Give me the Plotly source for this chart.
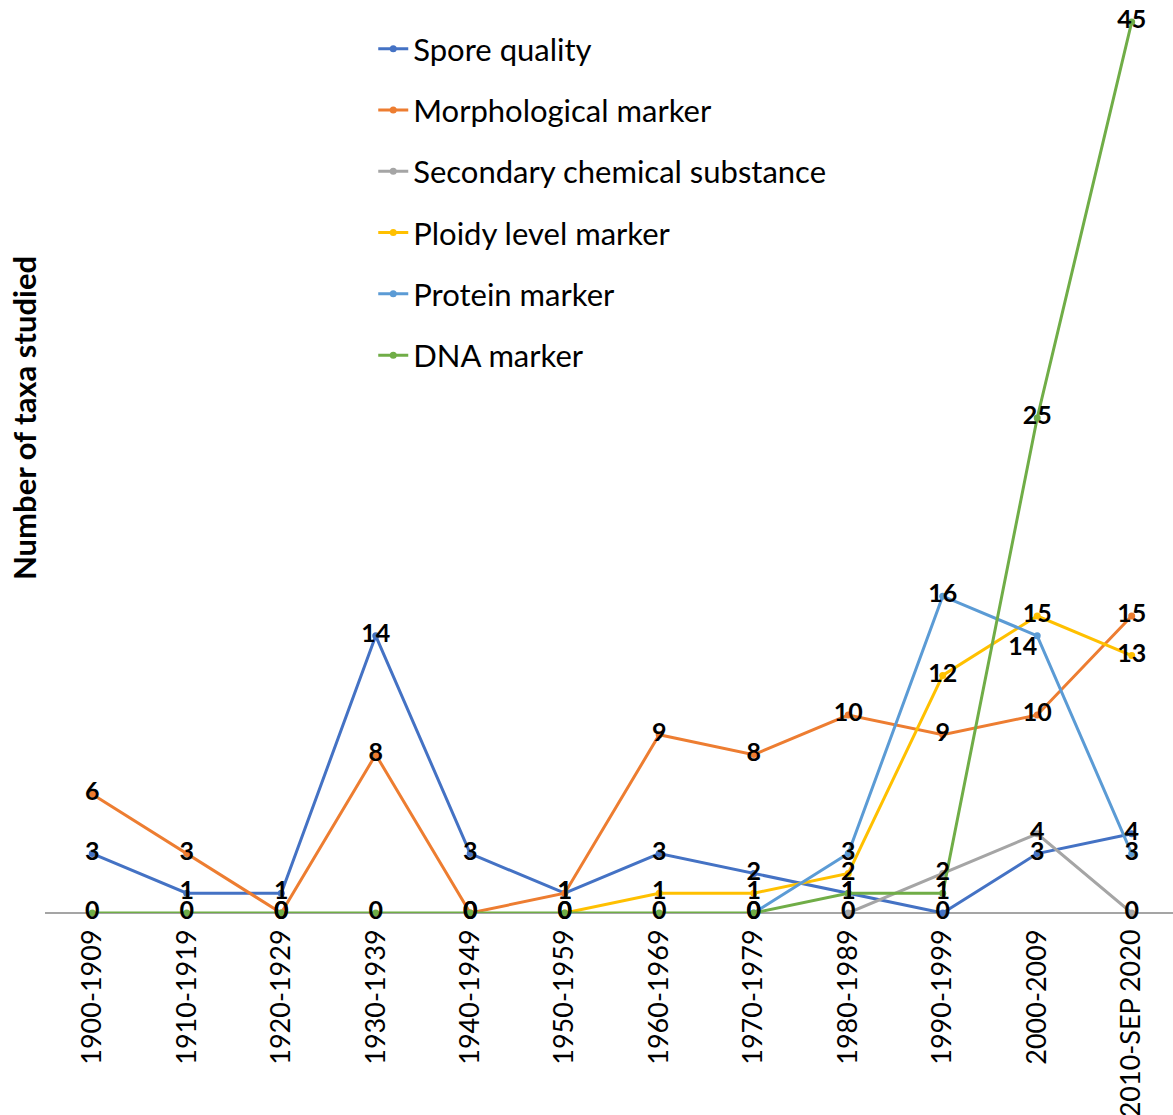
import plotly.graph_objects as go

periods = ["1900-1909", "1910-1919", "1920-1929", "1930-1939", "1940-1949",
           "1950-1959", "1960-1969", "1970-1979", "1980-1989", "1990-1999",
           "2000-2009", "2010-SEP 2020"]

spore_quality = [3, 1, 1, 14, 3, 1, 3, 2, 1, 0, 3, 4]
morphological = [6, 3, 0, 8, 0, 1, 9, 8, 10, 9, 10, 15]
secondary_chem = [None, None, None, None, None, None, None, None, 0, 2, 4, 0]
ploidy_level = [None, None, None, None, None, 0, 1, 1, 2, 12, 15, 13]
protein = [None, None, None, None, None, None, None, 0, 3, 16, 14, 3]
dna = [0, 0, 0, 0, 0, 0, 0, 0, 1, 1, 25, 45]

series = [
    ("Spore quality", spore_quality, "#4472C4"),
    ("Morphological marker", morphological, "#ED7D31"),
    ("Secondary chemical substance", secondary_chem, "#A5A5A5"),
    ("Ploidy level marker", ploidy_level, "#FFC000"),
    ("Protein marker", protein, "#5B9BD5"),
    ("DNA marker", dna, "#70AD47"),
]

FONT = "Lato"

fig = go.Figure()

for i, (name, vals, color) in enumerate(series):
    fig.add_trace(go.Scatter(
        x=periods, y=vals, name=name, mode="lines+markers",
        line=dict(color=color, width=3),
        marker=dict(color=color, size=7),
        legendgroup=f"g{i}", cliponaxis=False,
    ))

# value labels drawn above all lines
for name, vals, color in series:
    positions = []
    for p, v in zip(periods, vals):
        if name == "Protein marker" and p == "2000-2009":
            positions.append("bottom left")
        else:
            positions.append("middle center")
    fig.add_trace(go.Scatter(
        x=periods, y=vals, mode="text",
        text=[None if v is None else str(v) for v in vals],
        textposition=positions,
        textfont=dict(family=FONT, size=25, color="black", weight="bold"),
        showlegend=False, hoverinfo="skip", cliponaxis=False,
    ))

fig.update_layout(
    width=1173, height=1115,
    margin=dict(l=45, r=0, t=22, b=202, autoexpand=False),
    paper_bgcolor="white", plot_bgcolor="white",
    font=dict(family=FONT, color="black"),
    showlegend=True,
    legend=dict(
        x=0.291, y=1.0, xanchor="left", yanchor="top",
        xref="paper", yref="paper",
        font=dict(family=FONT, size=31, color="black"),
        bgcolor="rgba(0,0,0,0)",
        tracegroupgap=18, itemwidth=30,
    ),
    xaxis=dict(
        type="category", range=[-0.5, 11.437],
        showgrid=False, zeroline=False, automargin=False,
        showline=False, ticks="", tickangle=-90,
        ticklabelstandoff=10,
        tickfont=dict(family=FONT, size=27, color="black"),
    ),
    yaxis=dict(
        range=[0, 45], showgrid=False, zeroline=True, automargin=False,
        zerolinecolor="#A5A5A5", zerolinewidth=2,
        showticklabels=False, ticks="", showline=False,
    ),
    annotations=[dict(
        text="<b>Number of taxa studied</b>", xref="paper", yref="paper",
        x=-42 / 1128, y=(913 - 418) / 891, xanchor="left", yanchor="middle",
        textangle=-90, showarrow=False,
        font=dict(family=FONT, size=31, color="black"),
    )],
)

fig.write_html("out.html")
